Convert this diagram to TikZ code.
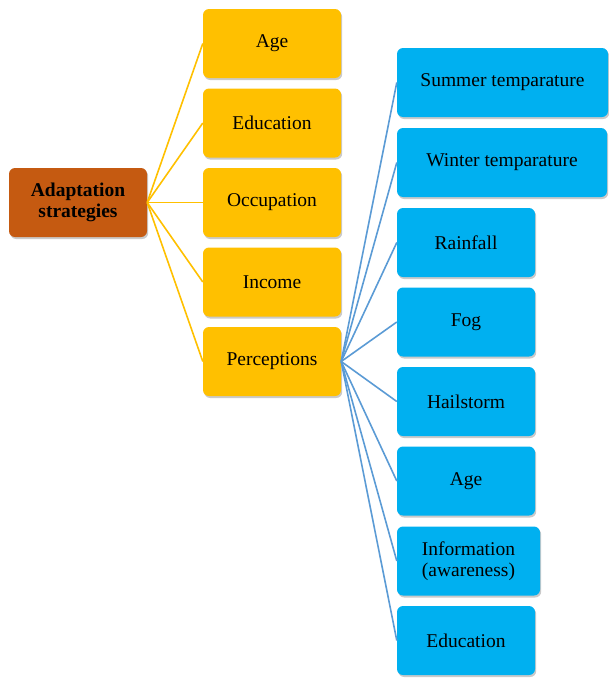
\documentclass[tikz,border=0pt]{standalone}
\usepackage{fontspec}
\setmainfont{Liberation Serif}
\usetikzlibrary{shadows}
\definecolor{rootc}{HTML}{C55A11}
\definecolor{yelc}{HTML}{FFC000}
\definecolor{bluc}{HTML}{00B0F0}
\definecolor{blin}{HTML}{5B9BD5}
\tikzset{
  box/.style={rounded corners=6pt, inner sep=0pt, align=center, minimum height=69pt,
    font=\fontsize{19.5}{21.5}\selectfont,
    drop shadow={shadow xshift=1.2pt, shadow yshift=-2pt, opacity=0.35, fill=black!60}},
  rootbox/.style={box, fill=rootc, minimum width=138pt, font=\fontsize{19.5}{21.5}\selectfont\bfseries},
  ybox/.style={box, fill=yelc, minimum width=138pt},
  bbox/.style={box, fill=bluc},
  yline/.style={draw=yelc, line width=1.6pt},
  bline/.style={draw=blin, line width=1.6pt}
}
\begin{document}
\begin{tikzpicture}[x=1pt,y=-1pt]
\useasboundingbox (0,0) rectangle (609,680);
\node[rootbox] (root) at (78,202.5) {Adaptation\\strategies};
\node[ybox] (y1) at (272,43.5) {Age};
\node[ybox] (y2) at (272,123) {Education};
\node[ybox] (y3) at (272,202.5) {Occupation};
\node[ybox] (y4) at (272,282) {Income};
\node[ybox] (y5) at (272,361.5) {Perceptions};
\node[bbox, minimum width=211pt] (b1) at (502.5,82.5) {Summer temparature};
\node[bbox, minimum width=210pt] (b2) at (502,162.5) {Winter temparature};
\node[bbox, minimum width=138pt] (b3) at (466,242.5) {Rainfall};
\node[bbox, minimum width=138pt] (b4) at (466,322) {Fog};
\node[bbox, minimum width=138pt] (b5) at (466,401.5) {Hailstorm};
\node[bbox, minimum width=138pt] (b6) at (466,481) {Age};
\node[bbox, minimum width=143pt] (b7) at (468.5,561) {Information\\(awareness)};
\node[bbox, minimum width=138pt] (b8) at (466,640.5) {Education};
\foreach \t in {y1,y2,y3,y4,y5} \draw[yline] (root.east) -- (\t.west);
\foreach \t in {b1,b2,b3,b4,b5,b6,b7,b8} \draw[bline] (y5.east) -- (\t.west);
\end{tikzpicture}
\end{document}
